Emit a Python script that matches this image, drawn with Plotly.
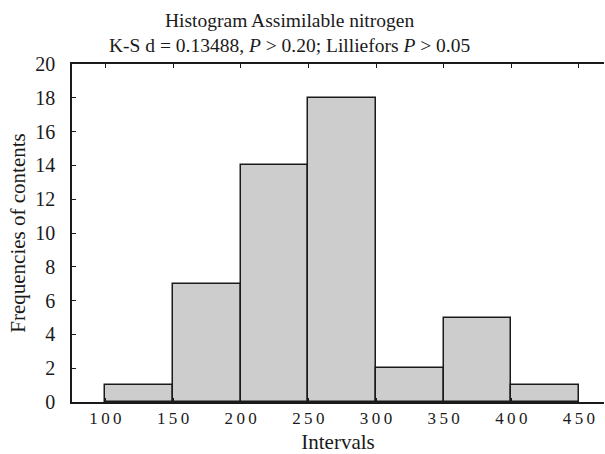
import plotly.graph_objects as go

bin_edges = [100, 150, 200, 250, 300, 350, 400, 450]
counts = [1, 7, 14, 18, 2, 5, 1]
x_ticks = [100, 150, 200, 250, 300, 350, 400, 450]
y_ticks = [0, 2, 4, 6, 8, 10, 12, 14, 16, 18, 20]

centers = [(a + b) / 2 for a, b in zip(bin_edges[:-1], bin_edges[1:])]
widths = [b - a for a, b in zip(bin_edges[:-1], bin_edges[1:])]

FONT = "Liberation Serif"
INK = "#1a1a1a"
W, H = 605, 454

fig = go.Figure()
fig.add_trace(go.Bar(
    x=centers, y=counts, width=widths,
    marker=dict(color="#cdcdcd", line=dict(color=INK, width=1.5)),
    showlegend=False, hoverinfo="skip",
))

spaced = lambda v: "\u2009".join(str(v))

fig.update_layout(
    width=W, height=H,
    margin=dict(l=72, r=1, t=64, b=52),
    paper_bgcolor="white", plot_bgcolor="white",
    font=dict(family=FONT, color=INK),
    bargap=0,
    xaxis=dict(
        range=[75.3, 468.5],
        tickvals=x_ticks, ticktext=[spaced(v) for v in x_ticks],
        ticks="inside", ticklen=4, tickwidth=1.2, tickcolor=INK,
        showline=True, linecolor=INK, linewidth=2, mirror="ticks",
        showgrid=False, zeroline=False,
        tickfont=dict(family=FONT, size=17, color=INK),
        title=dict(text="Intervals", font=dict(family=FONT, size=21, color=INK), standoff=9),
    ),
    yaxis=dict(
        range=[0, 20],
        tickvals=y_ticks,
        ticks="inside", ticklen=4, tickwidth=1.2, tickcolor=INK,
        showline=True, linecolor=INK, linewidth=1.5, mirror=False,
        showgrid=False, zeroline=False,
        ticklabelstandoff=11,
        tickfont=dict(family=FONT, size=20, color=INK),
        title=dict(text="Frequencies of contents", font=dict(family=FONT, size=21, color=INK), standoff=4),
    ),
    annotations=[
        dict(text="Histogram Assimilable nitrogen", xref="paper", yref="paper",
             x=(289 - 72) / 532, y=1 + (64 - 21) / 338, xanchor="center", yanchor="middle",
             showarrow=False, font=dict(family=FONT, size=19.5, color=INK)),
        dict(text="K-S d = 0.13488, <i>P</i> &gt; 0.20; Lilliefors <i>P</i> &gt; 0.05",
             xref="paper", yref="paper",
             x=(289 - 72) / 532, y=1 + (64 - 46) / 338, xanchor="center", yanchor="middle",
             showarrow=False, font=dict(family=FONT, size=19.5, color=INK)),
    ],
)

fig.write_html("out.html")
